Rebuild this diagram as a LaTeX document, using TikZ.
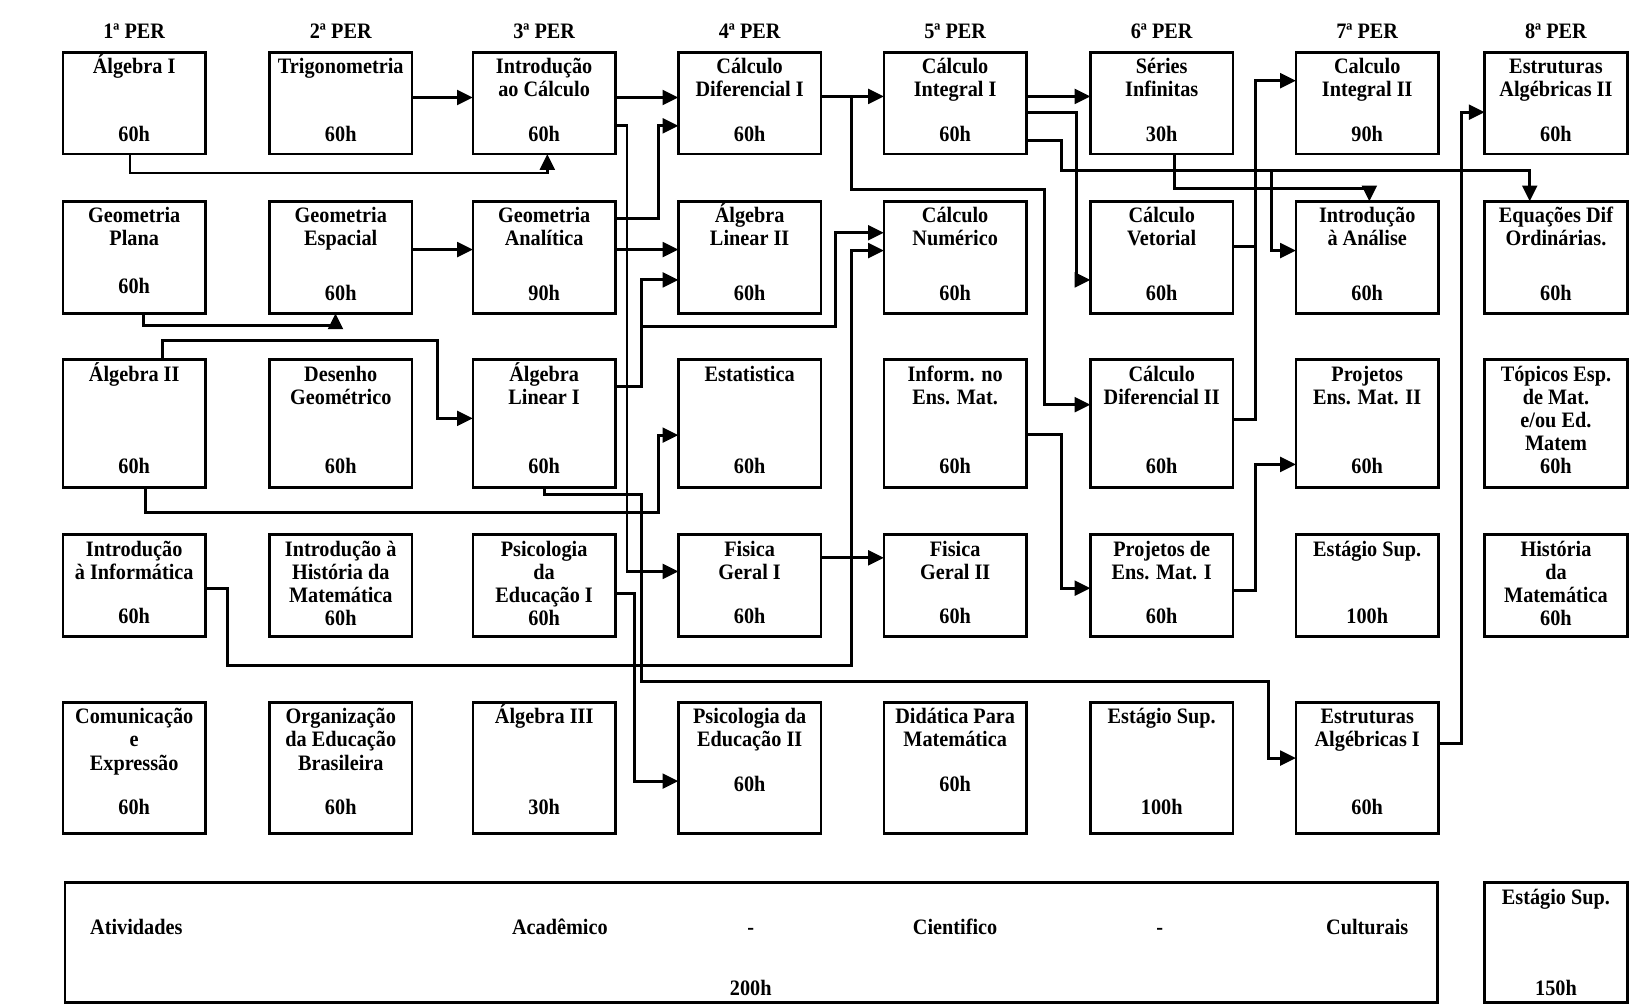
\documentclass[tikz,border=0pt]{standalone}
\usepackage{fontspec}
\setmainfont[FakeStretch=0.92]{Liberation Serif}
\usetikzlibrary{arrows.meta,calc}
\tikzset{
  box/.style={draw, line width=1.3pt, inner sep=0pt, outer sep=0pt, minimum width=68pt},
  ttl/.style={font=\bfseries\fontsize{10.5}{11}\selectfont, align=center, inner sep=0pt, anchor=north},
  hrs/.style={font=\bfseries\fontsize{10.5}{11}\selectfont, inner sep=0pt, anchor=base, yshift=-3.5pt},
  arr/.style={line width=1.4pt, -{Triangle[length=7.5pt,width=7pt]}},
  ln/.style={line width=1.4pt},
}
\newcommand\crs[7]{%
  \node[box, minimum height={(#4-#3)*0.5}] (#1) at ({#2+68},{(#3+#4)/2}) {};
  \node[ttl] (#1t) at (#1.north) {\rule{0pt}{10pt}#5};
  \node[hrs] (#1h) at (#1.center |- 0,#6) {#7};
}
\newcommand\crsn[5]{%
  \node[box, minimum height={(#4-#3)*0.5}] (#1) at ({#2+68},{(#3+#4)/2}) {};
  \node[ttl] (#1t) at (#1.north) {\rule{0pt}{10pt}#5};
}
\begin{document}
\begin{tikzpicture}[x=0.5pt,y=-0.5pt]
\fill[white] (0,0) rectangle (1568,959);
\useasboundingbox (0,0) rectangle (1568,959);

% headers
\node[hrs] (p1) at (128,30) {1ª PER};
\node[hrs] (p2) at (325,30) {2ª PER};
\node[hrs] (p3) at (519,30) {3ª PER};
\node[hrs] (p4) at (715,30) {4ª PER};
\node[hrs] (p5) at (911,30) {5ª PER};
\node[hrs] (p6) at (1108,30) {6ª PER};
\node[hrs] (p7) at (1304,30) {7ª PER};
\node[hrs] (p8) at (1484,30) {8ª PER};

% row 1
\crs{alg1}{60}{50}{147}{Álgebra I}{128}{60h}
\crs{trig}{257}{50}{147}{Trigonometria}{128}{60h}
\crs{intc}{451}{50}{147}{Introdução\\ao Cálculo}{128}{60h}
\crs{cdi}{647}{50}{147}{Cálculo\\Diferencial I}{128}{60h}
\crs{cii}{843}{50}{147}{Cálculo\\Integral I}{128}{60h}
\crs{ser}{1040}{50}{147}{Séries\\Infinitas}{128}{30h}
\crs{cint2}{1236}{50}{147}{Calculo\\Integral II}{128}{90h}
\crs{ea2}{1416}{50}{147}{Estruturas\\Algébricas II}{128}{60h}

% row 2
\crs{gpl}{60}{192}{299}{Geometria\\Plana}{273}{60h}
\crs{gesp}{257}{192}{299}{Geometria\\Espacial}{280}{60h}
\crs{gan}{451}{192}{299}{Geometria\\Analítica}{280}{90h}
\crs{al2}{647}{192}{299}{Álgebra\\Linear II}{280}{60h}
\crs{cnum}{843}{192}{299}{Cálculo\\Numérico}{280}{60h}
\crs{cvet}{1040}{192}{299}{Cálculo\\Vetorial}{280}{60h}
\crs{ian}{1236}{192}{299}{Introdução\\à Análise}{280}{60h}
\crs{edo}{1416}{192}{299}{Equações Dif\\Ordinárias.}{280}{60h}

% row 3
\crs{algII}{60}{343}{465}{Álgebra II}{445}{60h}
\crs{des}{257}{343}{465}{Desenho\\Geométrico}{445}{60h}
\crs{ali}{451}{343}{465}{Álgebra\\Linear I}{445}{60h}
\crs{est}{647}{343}{465}{Estatistica}{445}{60h}
\crs{inf}{843}{343}{465}{Inform. no\\Ens. Mat.}{445}{60h}
\crs{cd2}{1040}{343}{465}{Cálculo\\Diferencial II}{445}{60h}
\crs{pem2}{1236}{343}{465}{Projetos\\Ens. Mat. II}{445}{60h}
\crsn{top}{1416}{343}{465}{Tópicos Esp.\\de Mat.\\e/ou Ed.\\Matem\\60h}

% row 4
\crs{iinf}{60}{510}{607}{Introdução\\à Informática}{588}{60h}
\crsn{ihm}{257}{510}{607}{Introdução à\\História da\\Matemática\\60h}
\crsn{psi1}{451}{510}{607}{Psicologia\\da\\Educação I\\60h}
\crs{fg1}{647}{510}{607}{Fisica\\Geral I}{588}{60h}
\crs{fg2}{843}{510}{607}{Fisica\\Geral II}{588}{60h}
\crs{pem1}{1040}{510}{607}{Projetos de\\Ens. Mat. I}{588}{60h}
\crs{es1}{1236}{510}{607}{Estágio Sup.}{588}{100h}
\crsn{hist}{1416}{510}{607}{História\\da\\Matemática\\60h}

% row 5
\crs{com}{60}{670}{795}{Comunicação\\e\\Expressão}{770}{60h}
\crs{org}{257}{670}{795}{Organização\\da Educação\\Brasileira}{770}{60h}
\crs{alg3}{451}{670}{795}{Álgebra III}{770}{30h}
\crs{psi2}{647}{670}{795}{Psicologia da\\Educação II}{748}{60h}
\crs{did}{843}{670}{795}{Didática Para\\Matemática}{748}{60h}
\crs{es2}{1040}{670}{795}{Estágio Sup.}{770}{100h}
\crs{ea1}{1236}{670}{795}{Estruturas\\Algébricas I}{770}{60h}

% row 6
\node[box, minimum width={(1371-62)*0.5}, minimum height={(956-842)*0.5}] (ativ) at ({(62+1371)/2},{(842+956)/2}) {};
\node[hrs] (at1) at (130,884) {Atividades};
\node[hrs] (at2) at (534,884) {Acadêmico};
\node[hrs] (at3) at (716,884) {-};
\node[hrs] (at4) at (911,884) {Cientifico};
\node[hrs] (at5) at (1106,884) {-};
\node[hrs] (at6) at (1304,884) {Culturais};
\node[hrs] (at7) at (716,942) {200h};
\node[box, minimum height={(956-842)*0.5}] (es3) at (1484,{(842+956)/2}) {};
\node[ttl] (es3t) at (es3.north) {\rule{0pt}{10pt}Estágio Sup.};
\node[hrs] (es3h) at (1484,942) {150h};

% connectors
\draw[arr] (alg1.south -| 124,0) |- (522,165) -- (intc.south -| 522,0);
\draw[arr] (gpl.south -| 137,0) |- (320,310) -- (gesp.south -| 320,0);
\draw[arr] (trig.east |- 0,93) -- (intc.west |- 0,93);
\draw[arr] (gesp.east |- 0,238) -- (gan.west |- 0,238);
\draw[arr] (algII.north -| 155,0) |- (417,325) |- (ali.west |- 0,399);
\draw[arr] (algII.south -| 139,0) |- (628,489) |- (est.west |- 0,415);
\draw[arr] (intc.east |- 0,93) -- (cdi.west |- 0,93);
\draw[arr] (intc.east |- 0,120) -| (598,545) -- (fg1.west |- 0,545);
\draw[arr] (gan.east |- 0,208) -| (628,120) -- (cdi.west |- 0,120);
\draw[arr] (gan.east |- 0,238) -- (al2.west |- 0,238);
\draw[arr] (ali.east |- 0,369) -| (612,267) -- (al2.west |- 0,267);
\draw[arr] (ali.east |- 0,369) -| (612,311) -| (797,222) -- (cnum.west |- 0,222);
\draw[arr] (ali.south -| 519,0) |- (612,472) |- (1210,650) |- (ea1.west |- 0,723);
\draw[arr] (psi1.east |- 0,566) -| (605,745) -- (psi2.west |- 0,745);
\draw[arr] (iinf.east |- 0,561) -| (217,635) -| (812,239) -- (cnum.west |- 0,239);
\draw[arr] (cdi.east |- 0,92) -- (cii.west |- 0,92);
\draw[arr] (cdi.east |- 0,92) -| (812,181) -| (996,386) -- (cd2.west |- 0,386);
\draw[arr] (fg1.east |- 0,532) -- (fg2.west |- 0,532);
\draw[arr] (cii.east |- 0,92) -- (ser.west |- 0,92);
\draw[arr] (cii.east |- 0,107) -| (1027,267) -- (cvet.west |- 0,267);
\draw[arr] (cii.east |- 0,134) -| (1012,163) -| (edo.north -| 1459,0);
\draw[arr] (cii.east |- 0,134) -| (1012,163) -| (1213,239) -- (ian.west |- 0,239);
\draw[arr] (ser.south -| 1120,0) |- (1306,180) -- (ian.north -| 1306,0);
\draw[arr] (inf.east |- 0,414) -| (1012,561) -- (pem1.west |- 0,561);
\draw[arr] (cd2.east |- 0,400) -| (1197,77) -- (cint2.west |- 0,77);
\draw[ln] (cvet.east |- 0,235) -- (1197,235);
\draw[arr] (pem1.east |- 0,563) -| (1197,443) -- (pem2.west |- 0,443);
\draw[arr] (ea1.east |- 0,709) -| (1394,107) -- (ea2.west |- 0,107);
\end{tikzpicture}
\end{document}
